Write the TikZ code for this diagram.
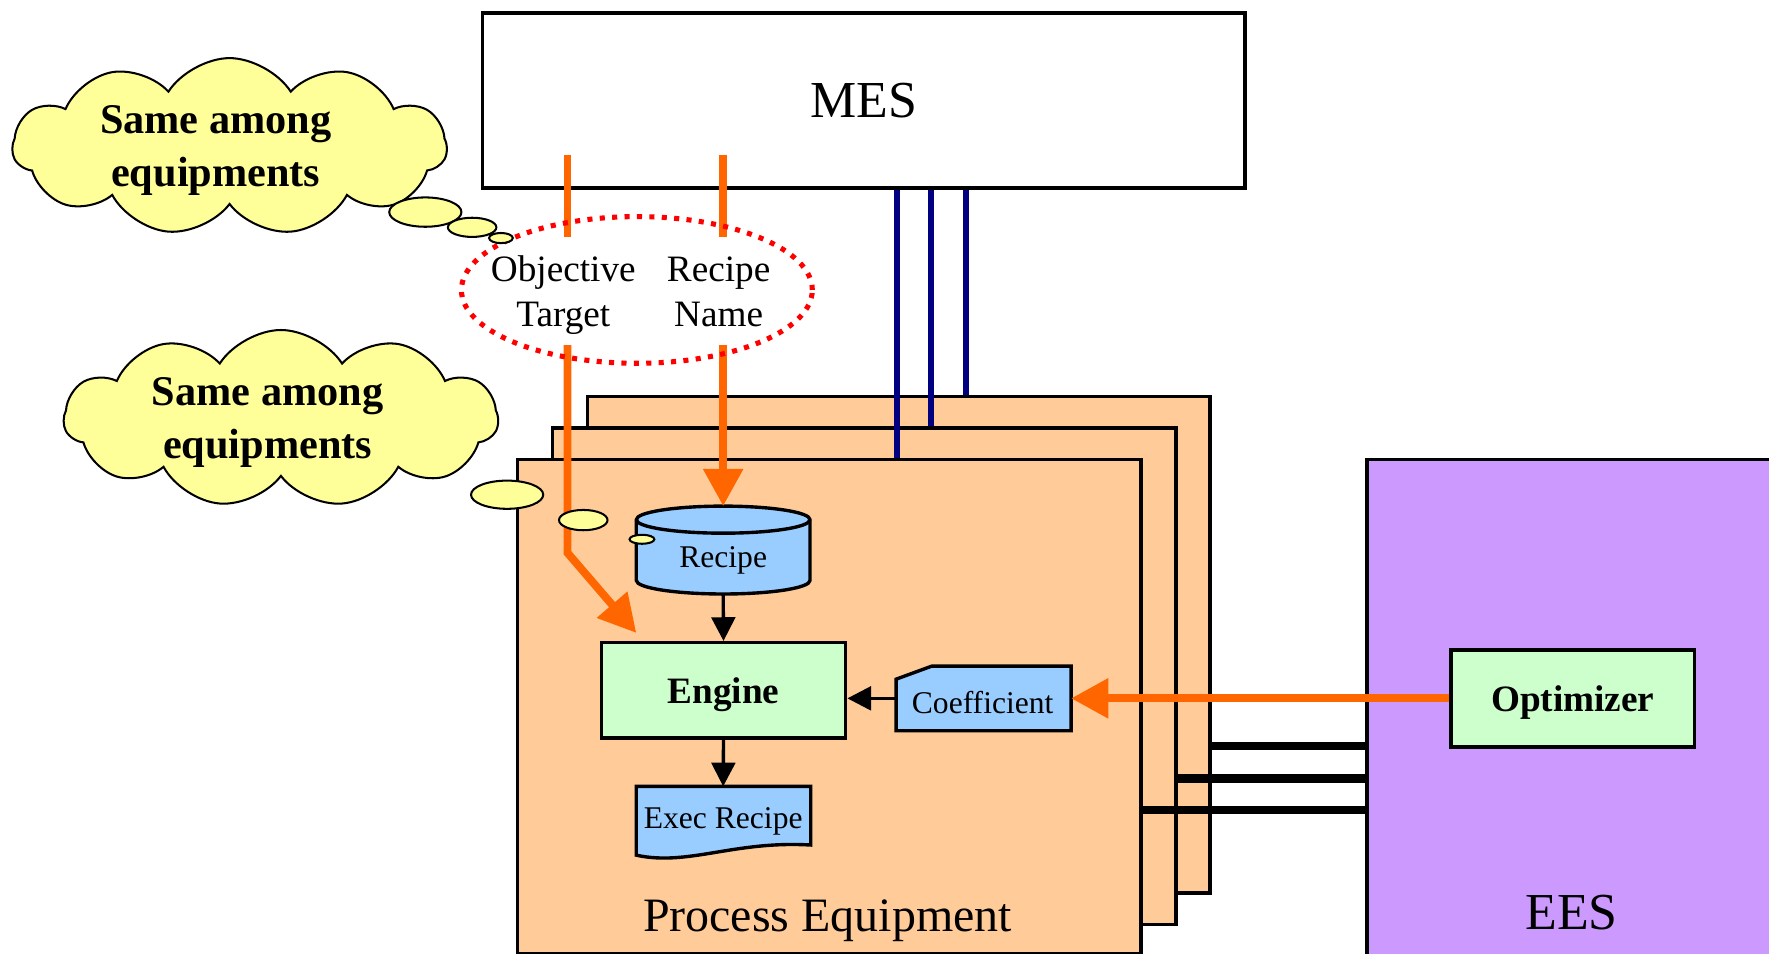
\documentclass[tikz,border=0pt]{standalone}
\usepackage{fontspec}
\setmainfont{Liberation Serif}
\usetikzlibrary{shapes.symbols,shapes.geometric,arrows.meta}
\definecolor{peach}{HTML}{FFCC99}
\definecolor{skyb}{HTML}{99CCFF}
\definecolor{mint}{HTML}{CCFFCC}
\definecolor{lilac}{HTML}{CC99FF}
\definecolor{cream}{HTML}{FFFF99}
\definecolor{orng}{HTML}{FF6600}
\definecolor{navyb}{HTML}{000080}
\definecolor{dotred}{HTML}{FF0000}
\begin{document}
\begin{tikzpicture}[x=1pt,y=1pt,
  box/.style={draw=black,line width=3pt,inner sep=0pt},
  pebox/.style={box,fill=peach,anchor=north west,minimum width=552pt,minimum height=440pt},
  greenbox/.style={box,fill=mint,font=\bfseries\fontsize{33pt}{38pt}\selectfont,text depth=0pt},
  shapeline/.style={draw=black,line width=3pt,fill=skyb,line join=miter},
  smalltext/.style={font=\fontsize{28pt}{33pt}\selectfont,anchor=base,inner sep=0pt},
  bigtext/.style={anchor=base,inner sep=0pt},
  eltext/.style={font=\fontsize{33pt}{40pt}\selectfont,align=center,inner sep=0pt},
  cloudtext/.style={font=\bfseries\fontsize{37.5pt}{46.7pt}\selectfont,align=center,inner sep=0pt},
  cloudy/.style={cloud,draw=black,fill=cream,line width=1.8pt,cloud puffs=11,cloud puff arc=115,cloud ignores aspect,minimum width=385pt,minimum height=157pt,inner sep=0pt},
  bub/.style={ellipse,draw=black,fill=cream,line width=1.8pt,inner sep=0pt},
  oline/.style={draw=orng,line width=7pt},
  oarrow/.style={oline,-{Triangle[width=34pt,length=33pt]}},
  blk/.style={draw=black,line width=3pt,-{Triangle[width=21pt,length=21pt]}},
  bus/.style={draw=black,line width=7.5pt},
  bluel/.style={draw=navyb,line width=5.5pt}
]
\useasboundingbox (0,0) rectangle (1568,-845);
\fill[white] (0,0) rectangle (1568,-845);

% MES
\node[box,anchor=north west,minimum width=676pt,minimum height=155pt,font=\fontsize{46pt}{50pt}\selectfont,text depth=0pt] (mes) at (426,-10) {MES};

% Process equipment stack
\node[pebox] (pe3) at (519,-350) {};
\node[pebox,minimum width=553pt] (pe2) at (488,-378) {};
\node[pebox,minimum width=553pt,minimum height=438pt] (pe1) at (457,-406) {};
\node[bigtext,font=\fontsize{42.5pt}{48pt}\selectfont] (petext) at (733.5,-826) {Process Equipment};

% EES
\node[box,fill=lilac,anchor=north west,minimum width=400pt,minimum height=480pt] (ees) at (1210,-406) {};
\node[bigtext,font=\fontsize{46pt}{50pt}\selectfont] (eestext) at (1393,-824) {EES};

% bus lines
\coordinate (y1) at (0,-661);
\coordinate (y2) at (0,-690);
\coordinate (y3) at (0,-718);
\draw[bus] (pe3.east |- y1) -- (ees.west |- y1);
\draw[bus] (pe2.east |- y2) -- (ees.west |- y2);
\draw[bus] (pe1.east |- y3) -- (ees.west |- y3);

% blue lines
\coordinate (x1) at (795,0);
\coordinate (x2) at (825.5,0);
\coordinate (x3) at (856.5,0);
\draw[bluel] (mes.south -| x1) -- (pe1.north -| x1);
\draw[bluel] (mes.south -| x2) -- (pe2.north -| x2);
\draw[bluel] (mes.south -| x3) -- (pe3.north -| x3);

% Recipe cylinder
\path[shapeline] (564,-460.6) -- (564,-514.5) arc[start angle=180,end angle=360,x radius=77pt,y radius=12pt] -- (718,-460.6) arc[start angle=0,end angle=180,x radius=77pt,y radius=12pt] -- cycle;
\draw[line width=3pt] (564,-460.6) arc[start angle=180,end angle=360,x radius=77pt,y radius=12pt];
\node[smalltext] (recipe) at (641,-502.8) {Recipe};
\coordinate (recTop) at (641,-448.6);
\coordinate (recBot) at (641,-526.5);

% Exec recipe (document)
\path[shapeline] (564,-697) -- (718.6,-697) -- (718.6,-749) .. controls (650,-745) and (610,-768) .. (564,-758) -- cycle;
\node[smalltext] (exec) at (641,-734.2) {Exec Recipe};
\coordinate (execTop) at (641,-697);

% Coefficient (card)
\path[shapeline] (794.3,-602) -- (826,-590.4) -- (949.4,-590.4) -- (949.4,-647.7) -- (794.3,-647.7) -- cycle;
\node[smalltext] (coef) at (871,-632.3) {Coefficient};
\coordinate (coefW) at (794.3,-619);
\coordinate (coefE) at (949.4,-619);

% Engine, Optimizer
\node[greenbox,minimum width=216.6pt,minimum height=84.4pt] (engine) at (641.3,-611.8) {Engine};
\node[greenbox,minimum width=216pt,minimum height=86pt] (opt) at (1394,-619) {Optimizer};

% black arrows
\draw[blk] (recBot) -- (engine.north);
\draw[blk] (engine.south) -- (execTop);
\draw[blk] (coefW) -- (engine.east |- coefW);

% orange arrows
\draw[oarrow] (opt.west) -- (coefE);
\coordinate (oa1) at (503,-137);
\coordinate (oa2) at (503,-210);
\coordinate (oa3) at (503,-306);
\coordinate (oa4) at (503,-490);
\coordinate (engTip) at (564,-561);
\coordinate (ob1) at (641,-137);
\coordinate (ob2) at (641,-210);
\coordinate (ob3) at (641,-306);
\draw[oline] (oa1) -- (oa2);
\draw[oarrow] (oa3) -- (oa4) -- (engTip);
\draw[oline] (ob1) -- (ob2);
\draw[oarrow] (ob3) -- (recTop);

% dotted ellipse
\node[ellipse,draw=dotred,line width=4.5pt,dash pattern=on 4.5pt off 6.5pt,minimum width=311pt,minimum height=130pt,inner sep=0pt] (sel) at (564.5,-257) {};
\node[eltext] (objt) at (499.3,-261.6) {Objective\strut\\Target\strut};
\node[eltext] (rname) at (637,-261.6) {Recipe\strut\\Name\strut};

% clouds
\node[cloudy] (c1) at (203.5,-130) {};
\node[cloudtext] (c1t) at (191.3,-132.2) {Same among\strut\\equipments\strut};
\node[bub,minimum width=64pt,minimum height=26pt] (b11) at (377,-188) {};
\node[bub,minimum width=43pt,minimum height=17pt] (b12) at (418.5,-201.5) {};
\node[bub,minimum width=21pt,minimum height=9pt] (b13) at (444,-211) {};

\node[cloudy] (c2) at (249,-371) {};
\node[cloudtext] (c2t) at (237.3,-373.7) {Same among\strut\\equipments\strut};
\node[bub,minimum width=64pt,minimum height=25pt] (b21) at (449.5,-438.5) {};
\node[bub,minimum width=43pt,minimum height=18pt] (b22) at (517,-461) {};
\node[bub,minimum width=22pt,minimum height=8pt] (b23) at (569,-478) {};
\end{tikzpicture}
\end{document}
